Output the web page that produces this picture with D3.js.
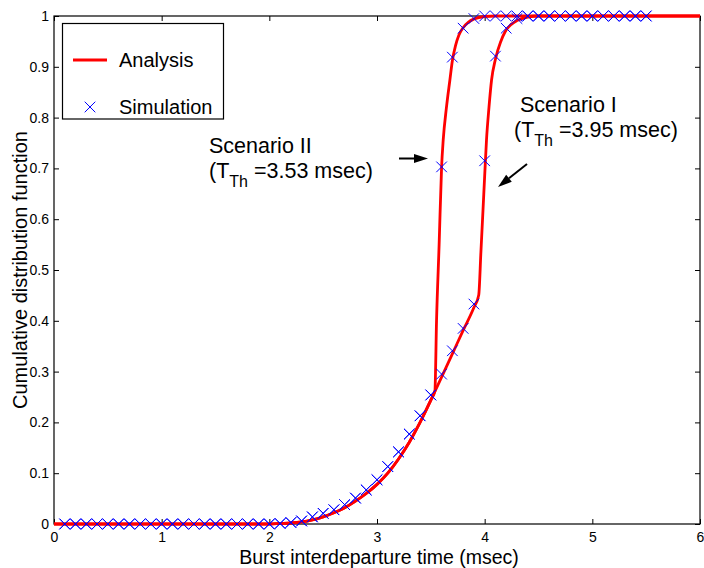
<!DOCTYPE html>
<html>
<head>
<meta charset="utf-8">
<script src="https://cdn.jsdelivr.net/npm/d3@7/dist/d3.min.js"></script>
<style>
  html, body { margin: 0; padding: 0; background: #fff; }
  svg { display: block; font-family: "Liberation Sans", Arial, Helvetica, sans-serif; }
</style>
</head>
<body>
<svg id="chart" width="704" height="568"></svg>
<script>
// ---------- data ----------
const xTickLabels = ["0", "1", "2", "3", "4", "5", "6"];
const yTickLabels = ["0", "0.1", "0.2", "0.3", "0.4", "0.5", "0.6", "0.7", "0.8", "0.9", "1"];
const xTicks = [0, 1, 2, 3, 4, 5, 6];
const yTicks = [0, 0.1, 0.2, 0.3, 0.4, 0.5, 0.6, 0.7, 0.8, 0.9, 1];

// Analysis, Scenario I (T_Th = 3.95 msec)
const anaX_I = [0, 2.0, 2.1, 2.2, 2.3, 2.4, 2.5, 2.6, 2.7, 2.8, 2.9, 3.0, 3.1, 3.2, 3.3, 3.4, 3.5, 3.54,
                3.6, 3.7, 3.8, 3.9, 3.945, 3.965, 3.985, 4.0, 4.017, 4.04, 4.064, 4.1, 4.15, 4.19, 4.25, 4.3, 4.4, 4.5, 6];
const anaY_I = [0, 0, 0.001, 0.002, 0.004, 0.008, 0.014, 0.022, 0.032, 0.045, 0.060, 0.078, 0.100, 0.128, 0.161, 0.200, 0.244, 0.262,
                0.289, 0.335, 0.381, 0.426, 0.451, 0.535, 0.62, 0.685, 0.756, 0.82, 0.874, 0.915, 0.950, 0.969, 0.984, 0.991, 0.998, 1, 1];

// Analysis, Scenario II (T_Th = 3.53 msec)
const anaX_II = [0, 2.0, 2.1, 2.2, 2.3, 2.4, 2.5, 2.6, 2.7, 2.8, 2.9, 3.0, 3.1, 3.2, 3.3, 3.4, 3.5, 3.538,
                 3.553, 3.577, 3.6, 3.615, 3.645, 3.677, 3.70, 3.73, 3.76, 3.80, 3.85, 3.9, 4.0, 4.1, 6];
const anaY_II = [0, 0, 0.001, 0.002, 0.004, 0.008, 0.014, 0.022, 0.032, 0.045, 0.060, 0.078, 0.100, 0.128, 0.161, 0.200, 0.244, 0.262,
                 0.40, 0.55, 0.703, 0.756, 0.82, 0.874, 0.912, 0.942, 0.962, 0.977, 0.988, 0.994, 0.999, 1, 1];

// Simulation samples
const simX = [0.1, 0.2, 0.3, 0.4, 0.5, 0.6, 0.7, 0.8, 0.9, 1.0,
              1.1, 1.2, 1.3, 1.4, 1.5, 1.6, 1.7, 1.8, 1.9, 2.0,
              2.1, 2.2, 2.3, 2.4, 2.5, 2.6, 2.7, 2.8, 2.9, 3.0,
              3.1, 3.2, 3.3, 3.4, 3.5, 3.6, 3.7, 3.8, 3.9, 4.0,
              4.1, 4.2, 4.3, 4.4, 4.5, 4.6, 4.7, 4.8, 4.9, 5.0,
              5.1, 5.2, 5.3, 5.4, 5.5];
const simI = [0, 0, 0, 0, 0, 0, 0, 0, 0, 0,
              0, 0, 0, 0, 0, 0, 0, 0, 0, 0,
              0.001, 0.003, 0.006, 0.014, 0.021, 0.028, 0.038, 0.051, 0.067, 0.087,
              0.113, 0.142, 0.177, 0.213, 0.254, 0.295, 0.341, 0.385, 0.433, 0.715,
              0.921, 0.976, 0.995, 1, 1, 1, 1, 1, 1, 1,
              1, 1, 1, 1, 1];
const simII = [0, 0, 0, 0, 0, 0, 0, 0, 0, 0,
               0, 0, 0, 0, 0, 0, 0, 0, 0, 0,
               0.001, 0.003, 0.006, 0.014, 0.021, 0.028, 0.038, 0.051, 0.067, 0.087,
               0.113, 0.142, 0.177, 0.213, 0.254, 0.703, 0.919, 0.976, 0.995, 1,
               1, 1, 1, 1, 1, 1, 1, 1, 1, 1,
               1, 1, 1, 1, 1];

const legendLabels = ["Analysis", "Simulation"];

// ---------- layout ----------
const svg = d3.select("#chart");
const L = 54, R = 700, T = 16, B = 524;
const x = d3.scaleLinear().domain([0, 6]).range([L, R]);
const y = d3.scaleLinear().domain([0, 1]).range([B, T]);

svg.append("rect").attr("width", 704).attr("height", 568).attr("fill", "#fff");

// axes (inward ticks on all four sides)
const fmtX = (d, i) => xTickLabels[i];
const fmtY = (d, i) => yTickLabels[i];

const gB = svg.append("g").attr("transform", `translate(0,${B})`)
  .call(d3.axisBottom(x).tickValues(xTicks).tickFormat(fmtX).tickSizeInner(-5).tickSizeOuter(0).tickPadding(8));
const gL = svg.append("g").attr("transform", `translate(${L},0)`)
  .call(d3.axisLeft(y).tickValues(yTicks).tickFormat(fmtY).tickSizeInner(-5).tickSizeOuter(0).tickPadding(5));
const gT = svg.append("g").attr("transform", `translate(0,${T})`)
  .call(d3.axisTop(x).tickValues(xTicks).tickFormat("").tickSizeInner(-5).tickSizeOuter(0));
const gR = svg.append("g").attr("transform", `translate(${R},0)`)
  .call(d3.axisRight(y).tickValues(yTicks).tickFormat("").tickSizeInner(-5).tickSizeOuter(0));

[gB, gL, gT, gR].forEach(g => {
  g.select(".domain").remove();
  g.selectAll(".tick line").attr("stroke", "#000").attr("stroke-width", 1);
  g.selectAll(".tick text").attr("fill", "#000").style("font-size", "14px")
    .style("font-family", '"Liberation Sans", Arial, Helvetica, sans-serif');
});

svg.append("rect")
  .attr("x", L).attr("y", T).attr("width", R - L).attr("height", B - T)
  .attr("fill", "none").attr("stroke", "#000").attr("stroke-width", 1.2);

// axis labels
svg.append("text")
  .attr("x", (L + R) / 2 + 2).attr("y", 563.5)
  .attr("text-anchor", "middle").style("font-size", "19.5px")
  .text("Burst interdeparture time (msec)");
svg.append("text")
  .attr("transform", `translate(27,${(T + B) / 2}) rotate(-90)`)
  .attr("text-anchor", "middle").style("font-size", "20px")
  .text("Cumulative distribution function");

// analysis curves
const line = d3.line().x(d => x(d[0])).y(d => y(d[1])).curve(d3.curveMonotoneX);
const curves = [d3.zip(anaX_I, anaY_I), d3.zip(anaX_II, anaY_II)];
svg.append("g").selectAll("path").data(curves).join("path")
  .attr("d", line)
  .attr("fill", "none").attr("stroke", "#ff0000").attr("stroke-width", 2.8)
  .attr("stroke-linejoin", "round");

// simulation markers
const m = 5.3;
const xMark = `M${-m},${-m}L${m},${m}M${-m},${m}L${m},${-m}`;
const simPts = d3.zip(simX, simI).concat(d3.zip(simX, simII));
svg.append("g").selectAll("path").data(simPts).join("path")
  .attr("transform", d => `translate(${x(d[0])},${y(d[1])})`)
  .attr("d", xMark)
  .attr("fill", "none").attr("stroke", "#0000ff").attr("stroke-width", 1);

// legend
const lg = svg.append("g");
lg.append("rect").attr("x", 62.5).attr("y", 23.5).attr("width", 161).attr("height", 95.5)
  .attr("fill", "#fff").attr("stroke", "#000").attr("stroke-width", 1.2);
lg.append("line").attr("x1", 73).attr("x2", 107).attr("y1", 60).attr("y2", 60)
  .attr("stroke", "#ff0000").attr("stroke-width", 2.8);
lg.append("path").attr("transform", "translate(90,107)").attr("d", xMark)
  .attr("fill", "none").attr("stroke", "#0000ff").attr("stroke-width", 1);
lg.append("text").attr("x", 119).attr("y", 67).style("font-size", "20px").text(legendLabels[0]);
lg.append("text").attr("x", 119).attr("y", 114).style("font-size", "20px").text(legendLabels[1]);

// annotations
function annot(xTitle, x0, y0, y1, title, value) {
  svg.append("text").attr("x", xTitle).attr("y", y0).style("font-size", "21.5px").text(title);
  const t = svg.append("text").attr("x", x0).attr("y", y1).style("font-size", "21.5px");
  t.append("tspan").text("(T");
  t.append("tspan").attr("dy", 9).style("font-size", "16px").text("Th");
  t.append("tspan").attr("dy", -9).text(" =" + value + " msec)");
}
annot(209, 209, 153, 177.5, "Scenario II", "3.53");
annot(520, 514, 112, 136.5, "Scenario I", "3.95");

function arrow(x1, y1, x2, y2) {
  const ang = Math.atan2(y2 - y1, x2 - x1);
  const hl = 14, hw = 4.5;
  const bx = x2 - hl * Math.cos(ang), by = y2 - hl * Math.sin(ang);
  svg.append("line").attr("x1", x1).attr("y1", y1).attr("x2", bx).attr("y2", by)
    .attr("stroke", "#000").attr("stroke-width", 2);
  const px = -Math.sin(ang) * hw, py = Math.cos(ang) * hw;
  svg.append("path")
    .attr("d", `M${x2},${y2}L${bx + px},${by + py}L${bx - px},${by - py}Z`)
    .attr("fill", "#000");
}
arrow(399, 158.5, 428, 158.5);
arrow(527, 164, 498, 187);
</script>
</body>
</html>
